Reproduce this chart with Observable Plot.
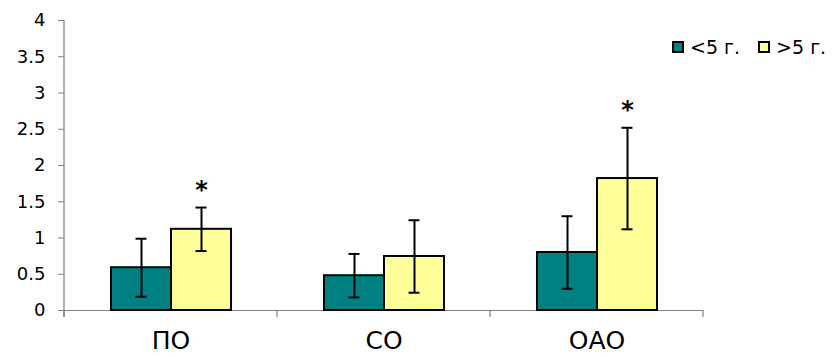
<!DOCTYPE html>
<html>
<head>
<meta charset="utf-8">
<script src="https://cdn.jsdelivr.net/npm/d3@7"></script>
<script src="https://cdn.jsdelivr.net/npm/@observablehq/plot@0.6"></script>
<style>
  html, body { margin: 0; padding: 0; background: white; }
  #wrap { position: relative; width: 840px; height: 358px; font-family: "DejaVu Sans", Verdana, sans-serif; }
  #legend { position: absolute; left: 672px; top: 36px; width: 168px; display: flex; align-items: center; font-size: 19px; color: black; white-space: nowrap; }
  #legend .sw { display: inline-block; width: 8px; height: 8px; border: 2px solid black; margin-right: 6px; flex: none; }
  #legend .item { display: flex; align-items: center; margin-right: 18px; white-space: nowrap; }
</style>
</head>
<body>
<div id="wrap"><div id="legend"></div></div>
<script>
const categories = ["ПО", "СО", "ОАО"];
const series = ["<5 г.", ">5 г."];
const under5 = [0.59, 0.48, 0.80];
const under5Err = [0.40, 0.30, 0.50];
const over5 = [1.12, 0.745, 1.82];
const over5Err = [0.30, 0.50, 0.70];
const over5Significant = [true, false, true];
const colors = ["#008080", "#FFFF99"];
const yTicks = [0, 0.5, 1, 1.5, 2, 2.5, 3, 3.5, 4];

const rows = categories.flatMap((c, i) => [
  {cat: c, ser: series[0], v: under5[i], e: under5Err[i], sig: false},
  {cat: c, ser: series[1], v: over5[i], e: over5Err[i], sig: over5Significant[i]}
]);

const chart = Plot.plot({
  width: 840,
  height: 358,
  marginLeft: 64,
  marginRight: 137,
  marginTop: 20,
  marginBottom: 48,
  style: {fontFamily: "DejaVu Sans, Verdana, sans-serif", color: "black", background: "white", overflow: "visible"},
  fx: {domain: categories, padding: 0},
  x: {domain: series, axis: null, paddingInner: 0, paddingOuter: 0.75},
  y: {domain: [0, 4]},
  color: {domain: series, range: colors},
  marks: [
    Plot.ruleY([0], {stroke: "#808080", strokeWidth: 1}),
    Plot.axisY({ticks: yTicks, tickFormat: d => String(d), tickSize: 6, tickPadding: 13, fontSize: 18, stroke: "#808080", fill: "black", label: null}),
    Plot.axisFx({anchor: "bottom", tickSize: 0, tickPadding: 21, fontSize: 25, label: null, fill: "black"}),
    Plot.barY(rows, {fx: "cat", x: "ser", y: "v", fill: "ser", stroke: "black", strokeWidth: 2}),
    Plot.ruleX(rows, {fx: "cat", x: "ser", y1: d => d.v - d.e, y2: d => d.v + d.e, stroke: "black", strokeWidth: 2}),
    Plot.tickY(rows, {fx: "cat", x: "ser", y: d => d.v + d.e, stroke: "black", strokeWidth: 2, insetLeft: 24.5, insetRight: 24.5}),
    Plot.tickY(rows, {fx: "cat", x: "ser", y: d => d.v - d.e, stroke: "black", strokeWidth: 2, insetLeft: 24.5, insetRight: 24.5}),
    Plot.text(rows.filter(d => d.sig), {fx: "cat", x: "ser", y: d => d.v + d.e, text: () => "*", dy: -17, fontSize: 24, fontWeight: "bold", fill: "black"})
  ]
});

// axis line and category boundary ticks, from the plot's own scales
const fx = chart.scale("fx");
const ys = chart.scale("y");
const svg = d3.select(chart);
const y0 = ys.apply(0);
const x0 = fx.apply(categories[0]);
const g = svg.append("g").attr("stroke", "#808080").attr("stroke-width", 1.2);
g.append("line").attr("x1", x0).attr("x2", x0).attr("y1", ys.apply(4)).attr("y2", y0 + 7);
const bounds = categories.map(c => fx.apply(c)).concat([fx.apply(categories[categories.length - 1]) + fx.bandwidth]);
bounds.forEach(b => g.append("line").attr("x1", b).attr("x2", b).attr("y1", y0).attr("y2", y0 + 7));

document.getElementById("wrap").prepend(chart);

const legend = document.getElementById("legend");
series.forEach((s, i) => {
  const item = document.createElement("span");
  item.className = "item";
  const sw = document.createElement("span");
  sw.className = "sw";
  sw.style.background = colors[i];
  item.appendChild(sw);
  item.appendChild(document.createTextNode(s));
  legend.appendChild(item);
});
</script>
</body>
</html>
